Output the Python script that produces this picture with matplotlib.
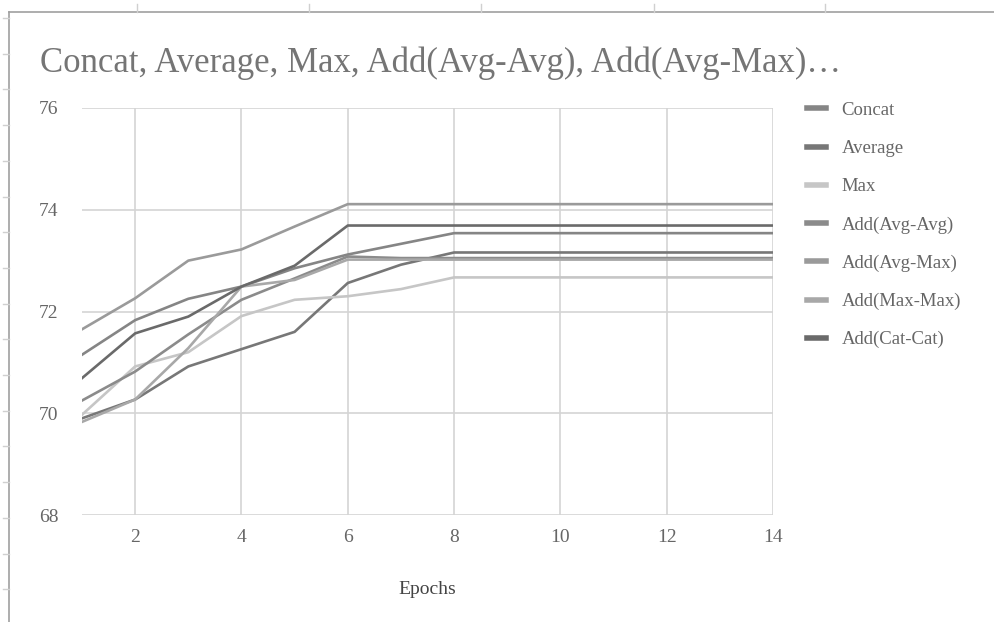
import matplotlib
matplotlib.use("Agg")
import matplotlib.pyplot as plt
from matplotlib.lines import Line2D

epochs = list(range(1, 15))
concat      = [71.15, 71.83, 72.25, 72.49, 72.85, 73.12, 73.33, 73.54, 73.54, 73.54, 73.54, 73.54, 73.54, 73.54]
average     = [69.90, 70.27, 70.92, 71.26, 71.60, 72.56, 72.92, 73.16, 73.16, 73.16, 73.16, 73.16, 73.16, 73.16]
max_pool    = [69.97, 70.92, 71.20, 71.91, 72.23, 72.30, 72.44, 72.67, 72.67, 72.67, 72.67, 72.67, 72.67, 72.67]
add_avg_avg = [70.25, 70.82, 71.55, 72.23, 72.65, 73.08, 73.05, 73.05, 73.05, 73.05, 73.05, 73.05, 73.05, 73.05]
add_avg_max = [71.65, 72.26, 73.00, 73.22, 73.67, 74.11, 74.11, 74.11, 74.11, 74.11, 74.11, 74.11, 74.11, 74.11]
add_max_max = [69.83, 70.27, 71.28, 72.49, 72.62, 73.02, 73.02, 73.02, 73.02, 73.02, 73.02, 73.02, 73.02, 73.02]
add_cat_cat = [70.69, 71.57, 71.90, 72.49, 72.90, 73.69, 73.69, 73.69, 73.69, 73.69, 73.69, 73.69, 73.69, 73.69]

labels = ["Concat", "Average", "Max", "Add(Avg-Avg)", "Add(Avg-Max)", "Add(Max-Max)", "Add(Cat-Cat)"]
series = [concat, average, max_pool, add_avg_avg, add_avg_max, add_max_max, add_cat_cat]
colors = ["#858585", "#777777", "#c6c6c6", "#8b8b8b", "#9a9a9a", "#a8a8a8", "#6a6a6a"]

title = "Concat, Average, Max, Add(Avg-Avg), Add(Avg-Max)…"
xticks = [2, 4, 6, 8, 10, 12, 14]
yticks = [68, 70, 72, 74, 76]

W, H = 995, 622
fig = plt.figure(figsize=(W / 100, H / 100), dpi=100)
fig.patch.set_facecolor("white")
serif = ["Liberation Serif", "DejaVu Serif"]

# spreadsheet frame
bc = "#a0a0a0"
fig.add_artist(Line2D([9 / W, 9 / W], [0, 1 - 12 / H], color=bc, lw=1.2))
fig.add_artist(Line2D([9 / W, 1], [1 - 12 / H, 1 - 12 / H], color=bc, lw=1.2))
for xm in [137, 309, 481, 654, 825]:
    fig.add_artist(Line2D([xm / W, xm / W], [1 - 4 / H, 1 - 12 / H], color="#d0d0d0", lw=1))
ym = 18.0
while ym < H:
    fig.add_artist(Line2D([3 / W, 9 / W], [1 - ym / H, 1 - ym / H], color="#d0d0d0", lw=1))
    ym += 35.7

ax = fig.add_axes([82 / W, 1 - 515 / H, (773 - 82) / W, (515 - 108) / H])
for s in ax.spines.values():
    s.set_visible(False)
ax.set_xlim(1, 14)
ax.set_ylim(68, 76)
ax.set_xticks(xticks)
ax.set_yticks(yticks)
ax.grid(True, color="#d4d4d4", lw=1.2)
ax.set_axisbelow(True)
ax.tick_params(axis="y", length=0, labelsize=14, labelcolor="#666666", pad=17)
ax.tick_params(axis="x", length=0, labelsize=14, labelcolor="#666666", pad=10)
for t in ax.get_xticklabels() + ax.get_yticklabels():
    t.set_fontfamily(serif)

for lab, ys, c in zip(labels, series, colors):
    ax.plot(epochs, ys, color=c, lw=1.9, label=lab, solid_joinstyle="round")

ax.set_xlabel("Epochs", fontsize=14, color="#444444", family=serif, labelpad=25)

fig.text(40 / W, 1 - 63 / H, title, fontsize=25, color="#757575", family=serif, va="center", ha="left")

leg = ax.legend(loc="upper left", bbox_to_anchor=(790 / W, 1 - 85 / H), bbox_transform=fig.transFigure,
                frameon=False, handlelength=1.0, handletextpad=0.85, labelspacing=1.12,
                prop={"family": serif, "size": 13.5})
for h in leg.get_lines():
    h.set_linewidth(4)
for t in leg.get_texts():
    t.set_color("#666666")

fig.savefig("out.png", dpi=100, facecolor="white")
